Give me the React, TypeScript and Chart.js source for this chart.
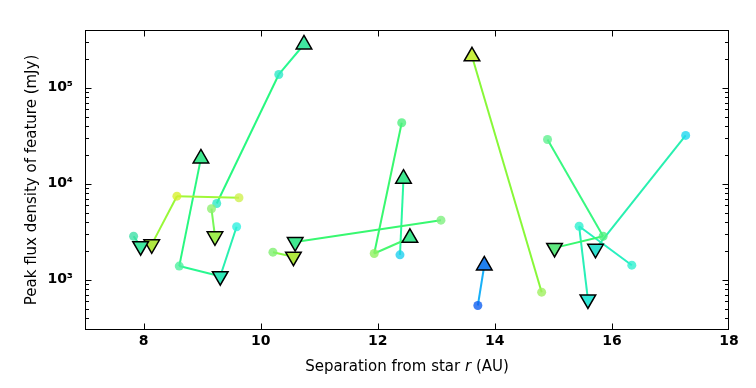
import React, { useEffect, useRef } from 'react';
import { Chart, registerables } from 'chart.js';
Chart.register(...registerables);

// Axis ticks
const xTicks = [8, 10, 12, 14, 16, 18];
const yTicks = [1e3, 1e4, 1e5];
const yTickLabels = ['10³', '10⁴', '10⁵'];

// Features: [separation r (AU), peak flux (mJy), marker] ; 'o' epoch point, '^' up, 'v' down
const featureA: [number, number, string][] = [[7.83, 2840, 'o'], [7.95, 2240, 'v']];
const featureB: [number, number, string][] = [[9.63, 7150, 'o'], [8.57, 7430, 'o'], [8.14, 2340, 'v']];
const featureC: [number, number, string][] = [[8.98, 18400, '^'], [8.61, 1390, 'o'], [9.31, 1090, 'v'], [9.59, 3570, 'o']];
const featureD: [number, number, string][] = [[9.16, 5500, 'o'], [9.22, 2840, 'v']];
const featureE: [number, number, string][] = [[9.25, 6240, 'o'], [10.31, 137700, 'o'], [10.74, 282600, '^']];
const featureF: [number, number, string][] = [[10.21, 1940, 'o'], [10.56, 1740, 'v']];
const featureG: [number, number, string][] = [[10.59, 2470, 'v'], [13.08, 4180, 'o']];
const featureH: [number, number, string][] = [[12.41, 43200, 'o'], [11.94, 1880, 'o'], [12.55, 2740, '^']];
const featureI: [number, number, string][] = [[12.38, 1820, 'o'], [12.44, 11300, '^']];
const featureJ: [number, number, string][] = [[13.61, 213000, '^'], [14.8, 743, 'o']];
const featureK: [number, number, string][] = [[13.71, 540, 'o'], [13.82, 1410, '^']];
const featureL: [number, number, string][] = [[14.9, 28900, 'o'], [15.85, 2840, 'o'], [15.02, 2150, 'v']];
const featureM: [number, number, string][] = [[17.26, 31900, 'o'], [15.72, 2100, 'v']];
const featureN: [number, number, string][] = [[15.59, 624, 'v'], [15.44, 3610, 'o'], [16.34, 1420, 'o']];

const FEATURES = [featureA, featureB, featureC, featureD, featureE, featureF, featureG,
  featureH, featureI, featureJ, featureK, featureL, featureM, featureN];

// Styles
const pointColors = [
  ['#40e0a8', '#40e8a0'],
  ['#d0f050', '#d8f030', '#b0e840'],
  ['#40e890', '#50f0a0', '#30e8b8', '#30f0e0'],
  ['#90f070', '#a0f050'],
  ['#30e8c8', '#30e8c8', '#40e8a0'],
  ['#80f070', '#b0e840'],
  ['#40e890', '#80f080'],
  ['#50f080', '#90f060', '#40e890'],
  ['#20d0f0', '#40e890'],
  ['#c8f040', '#a0f060'],
  ['#1060f0', '#2080f0'],
  ['#60f090', '#50f080', '#60e880'],
  ['#20d8f0', '#30e0d0'],
  ['#30e8d8', '#30f0d0', '#30f0d0'],
];
const lineColors = [
  ['#30f098'],
  ['#a0f838', '#98f838'],
  ['#28f880', '#28f890', '#28f0b0'],
  ['#78f858'],
  ['#28f880', '#28f890'],
  ['#88f848'],
  ['#38f870'],
  ['#38f870', '#48f870'],
  ['#28f8a0'],
  ['#88f838'],
  ['#18b0f8'],
  ['#38f880', '#38f870'],
  ['#28f0b0'],
  ['#28f0b8', '#28f0c0'],
];

function withAlpha(hex: string, a: number) {
  const r = parseInt(hex.slice(1, 3), 16);
  const g = parseInt(hex.slice(3, 5), 16);
  const b = parseInt(hex.slice(5, 7), 16);
  return `rgba(${r},${g},${b},${a})`;
}

const FONT = '"DejaVu Sans", sans-serif';

const framePlugin = {
  id: 'frame',
  afterDraw(chart: any) {
    const { ctx, chartArea: a, scales } = chart;
    const xs = scales.x, ys = scales.y;
    ctx.save();
    ctx.strokeStyle = '#000';
    ctx.lineWidth = 1;
    const L = Math.round(a.left) + 0.5, R = Math.round(a.right) - 0.5;
    const T = Math.round(a.top) + 0.5, B = Math.round(a.bottom) - 0.5;
    ctx.strokeRect(L, T, R - L, B - T);
    ctx.beginPath();
    for (const v of xTicks) {
      const px = Math.min(Math.round(xs.getPixelForValue(v)) + 0.5, R);
      ctx.moveTo(px, B); ctx.lineTo(px, B - 6);
      ctx.moveTo(px, T); ctx.lineTo(px, T + 6);
    }
    for (let d = 100; d <= 1e5; d *= 10) {
      for (let m = 1; m <= 9; m++) {
        const v = d * m;
        if (v <= ys.min || v >= ys.max) continue;
        const len = m === 1 ? 6 : 3.5;
        const py = Math.round(ys.getPixelForValue(v)) + 0.5;
        ctx.moveTo(L, py); ctx.lineTo(L + len, py);
        ctx.moveTo(R, py); ctx.lineTo(R - len, py);
      }
    }
    ctx.stroke();

    ctx.fillStyle = '#000';
    ctx.font = `15px ${FONT}`;
    ctx.textBaseline = 'middle';
    // y title
    ctx.save();
    ctx.translate(32, (a.top + a.bottom) / 2);
    ctx.rotate(-Math.PI / 2);
    ctx.textAlign = 'center';
    ctx.fillText('Peak flux density of feature (mJy)', 0, 0);
    ctx.restore();
    // x title with italic r
    const p1 = 'Separation from star ', p2 = 'r', p3 = ' (AU)';
    ctx.font = `15px ${FONT}`;
    const w1 = ctx.measureText(p1).width, w3 = ctx.measureText(p3).width;
    ctx.font = `italic 15px ${FONT}`;
    const w2 = ctx.measureText(p2).width;
    let x0 = (a.left + a.right) / 2 - (w1 + w2 + w3) / 2;
    const ty = 367;
    ctx.textAlign = 'left';
    ctx.font = `15px ${FONT}`;
    ctx.fillText(p1, x0, ty); x0 += w1;
    ctx.font = `italic 15px ${FONT}`;
    ctx.fillText(p2, x0, ty); x0 += w2;
    ctx.font = `15px ${FONT}`;
    ctx.fillText(p3, x0, ty);
    ctx.restore();
  },
};

export default function App() {
  const ref = useRef<HTMLCanvasElement>(null);
  useEffect(() => {
    if (!ref.current) return;
    const datasets = FEATURES.map((f, i) => ({
      data: f.map((p) => ({ x: p[0], y: p[1] })),
      showLine: true,
      borderWidth: 2,
      borderColor: lineColors[i][0],
      segment: { borderColor: (c: any) => lineColors[i][c.p0DataIndex] || lineColors[i][0] },
      pointStyle: f.map((p) => (p[2] === 'o' ? 'circle' : 'triangle')),
      pointRotation: f.map((p) => (p[2] === 'v' ? 180 : 0)),
      pointRadius: f.map((p) => (p[2] === 'o' ? 4.5 : 9)),
      pointBackgroundColor: f.map((p, j) => (p[2] === 'o' ? withAlpha(pointColors[i][j], 0.8) : pointColors[i][j])),
      pointBorderColor: f.map((p, j) => (p[2] === 'o' ? withAlpha(pointColors[i][j], 0.8) : '#000')),
      pointBorderWidth: f.map((p) => (p[2] === 'o' ? 0 : 1.5)),
    }));
    const chart = new Chart(ref.current, {
      type: 'scatter',
      data: { datasets },
      options: {
        animation: false,
        responsive: false,
        events: [],
        layout: { padding: { top: 30, right: 27, left: 0, bottom: 0 } },
        plugins: { legend: { display: false }, tooltip: { enabled: false } },
        scales: {
          x: {
            type: 'linear',
            min: 7,
            max: 18,
            grid: { display: false, drawTicks: false },
            border: { display: false },
            afterBuildTicks: (s: any) => { s.ticks = xTicks.map((v) => ({ value: v })); },
            afterFit: (s: any) => { s.height = 58; },
            ticks: {
              autoSkip: false,
              maxRotation: 0,
              padding: 3,
              color: '#000',
              font: { family: FONT, size: 14, weight: 'bold' },
              callback: (v: any) => String(v),
            },
          },
          y: {
            type: 'logarithmic',
            min: 300,
            max: 400000,
            grid: { display: false, drawTicks: false },
            border: { display: false },
            afterBuildTicks: (s: any) => { s.ticks = yTicks.map((v) => ({ value: v })); },
            afterFit: (s: any) => { s.width = 85; },
            ticks: {
              autoSkip: false,
              padding: 12,
              color: '#000',
              font: { family: FONT, size: 14, weight: 'bold' },
              callback: (v: any) => {
                const k = yTicks.indexOf(Number(v));
                return k >= 0 ? yTickLabels[k] : '';
              },
            },
          },
        },
      },
      plugins: [framePlugin],
    } as any);
    return () => chart.destroy();
  }, []);
  return (
    <div style={{ position: 'fixed', left: 0, top: 0, width: 756, height: 388, background: '#fff' }}>
      <canvas ref={ref} width={756} height={388} />
    </div>
  );
}
